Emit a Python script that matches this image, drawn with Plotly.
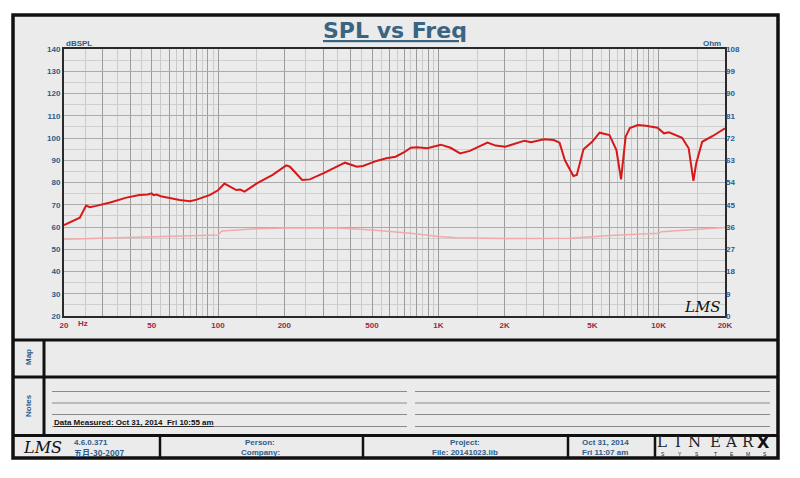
import plotly.graph_objects as go

W, H = 800, 478

# ---- data ----
spl_freq = [20, 23.6, 25.2, 26.2, 28, 32.4, 38.4, 44, 48, 50, 51, 52.6, 55, 60, 67, 74.6, 80, 92,
            100, 107, 113, 121, 126, 132, 150, 177, 204, 212, 241, 261, 300, 377, 427, 455, 524,
            581, 640, 700, 750, 800, 891, 1026, 1135, 1256, 1390, 1671, 1820, 2013, 2463, 2635,
            3017, 3340, 3550, 3630, 3750, 4100, 4250, 4560, 4990, 5395, 5980, 6430, 6750, 7080,
            7400, 8040, 8730, 9880, 10570, 11140, 12770, 13680, 14380, 14800, 15760, 17600, 20000]
spl_db = [60.8, 64.2, 69.6, 68.9, 69.5, 71.0, 73.2, 74.4, 74.6, 75.1, 74.3, 74.6, 73.8, 72.9, 72.1,
          71.6, 72.3, 74.4, 76.5, 79.5, 78.2, 76.6, 76.8, 75.9, 79.6, 83.4, 87.7, 87.1, 81.1, 81.4,
          84.1, 88.9, 87.1, 87.4, 89.7, 90.9, 91.6, 93.6, 95.6, 95.8, 95.4, 97.0, 95.6, 93.1, 94.2,
          97.9, 96.6, 96.1, 98.8, 98.1, 99.4, 99.1, 97.9, 94.6, 90.1, 82.9, 83.4, 94.9, 98.3,
          102.4, 101.3, 94.6, 81.4, 100.6, 104.5, 105.8, 105.5, 104.6, 102.1, 102.6, 100.1, 95.4,
          80.7, 88.6, 98.3, 100.9, 104.3]

imp_freq = [20, 100, 104, 150, 200, 350, 500, 750, 1000, 1200, 2000, 3000, 4000, 6000, 10000, 10300, 20000]
imp_ohm = [31.0, 32.8, 34.4, 35.3, 35.6, 35.6, 34.8, 33.5, 32.2, 31.7, 31.3, 31.3, 31.4, 32.6, 33.5, 34.1, 35.8]

left_ticks = [20, 30, 40, 50, 60, 70, 80, 90, 100, 110, 120, 130, 140]
right_ticks = [0, 9, 18, 27, 36, 45, 54, 63, 72, 81, 90, 99, 108]
x_label_vals = [20, 50, 100, 200, 500, 1000, 2000, 5000, 10000, 20000]
x_label_text = ["20", "50", "100", "200", "500", "1K", "2K", "5K", "10K", "20K"]

# grid positions
x_major = [m * d for d in (10, 100, 1000, 10000) for m in range(1, 10) if 20 <= m * d <= 20000]
x_minor = [m * d for d in (10, 100, 1000, 10000)
           for m in (1.5, 2.5, 3.5, 4.5, 5.5, 6.5, 7.5, 8.5, 9.5) if 20 <= m * d <= 20000]
x_text = [x_label_text[x_label_vals.index(v)] if v in x_label_vals else "" for v in x_major]

def px(x):
    return x / W

def py(y):
    return 1 - y / H

BLUE = "#2b5c8c"
CRIM = "#9e1f4d"
FONT = "Arial, Liberation Sans, sans-serif"

fig = go.Figure()
fig.add_trace(go.Scatter(x=imp_freq, y=imp_ohm, yaxis="y2", mode="lines",
                         line=dict(color="#f3a9a9", width=1.5), hoverinfo="skip", showlegend=False))
fig.add_trace(go.Scatter(x=spl_freq, y=spl_db, mode="lines",
                         line=dict(color="#d81818", width=2), showlegend=False))

fig.update_layout(
    width=W, height=H, autosize=False,
    margin=dict(l=0, r=0, t=0, b=0, pad=0),
    paper_bgcolor="white", plot_bgcolor="white",
    showlegend=False,
    xaxis=dict(type="log", range=[1.30103, 4.30103], domain=[px(64), px(725)], anchor="y",
               automargin=False,
               tickmode="array", tickvals=x_major, ticktext=x_text, ticks="",
               tickfont=dict(family=FONT, size=8, color=CRIM, weight="bold"),
               showgrid=True, gridcolor="#9c9c9c", gridwidth=1,
               minor=dict(tickvals=x_minor, showgrid=True, gridcolor="#cacaca", gridwidth=1, ticks=""),
               showline=True, linecolor="#2a2a2a", linewidth=2, mirror=True, zeroline=False,
               fixedrange=True),
    yaxis=dict(range=[20, 140], domain=[py(316), py(49)], anchor="x",
               automargin=False,
               tickmode="array", tickvals=left_ticks, ticks="",
               tickfont=dict(family=FONT, size=8, color=BLUE, weight="bold"),
               showgrid=True, gridcolor="#ababab", gridwidth=1,
               minor=dict(tickvals=[v + 5 for v in left_ticks[:-1]], showgrid=True,
                          gridcolor="#cfcfcf", gridwidth=1, ticks=""),
               showline=True, linecolor="#2a2a2a", linewidth=2, mirror=True, zeroline=False,
               fixedrange=True),
    yaxis2=dict(range=[0, 108], overlaying="y", side="right", anchor="x",
                automargin=False,
                tickmode="array", tickvals=right_ticks, ticks="",
                tickfont=dict(family=FONT, size=8, color=BLUE, weight="bold"),
                showgrid=False, zeroline=False, showline=False, fixedrange=True),
)

shapes = []
# panel background + outer frame
shapes.append(dict(type="rect", xref="paper", yref="paper", x0=px(13), x1=px(778), y0=py(458), y1=py(15),
                   fillcolor="#ebebeb", line=dict(width=0), layer="below"))
def hline(x0, x1, y, w=3, c="#111"):
    shapes.append(dict(type="line", xref="paper", yref="paper", x0=px(x0), x1=px(x1), y0=py(y), y1=py(y),
                       line=dict(color=c, width=w), layer="above"))
def vline(x, y0, y1, w=3, c="#111"):
    shapes.append(dict(type="line", xref="paper", yref="paper", x0=px(x), x1=px(x), y0=py(y0), y1=py(y1),
                       line=dict(color=c, width=w), layer="above"))
shapes.append(dict(type="rect", xref="paper", yref="paper", x0=px(13), x1=px(778), y0=py(458), y1=py(15),
                   fillcolor="rgba(0,0,0,0)", line=dict(color="#111", width=3.5), layer="above"))
hline(13, 778, 340)
hline(13, 778, 377)
hline(13, 778, 435.5)
vline(44, 340, 435.5)
for xv in (160, 363, 568, 655):
    vline(xv, 435.5, 458, w=2.5)
# note lines
for yv in (391.5, 403, 414.5, 426.5):
    hline(52, 407, yv, w=1, c="#8a8a8a")
    hline(415, 770, yv, w=1, c="#8a8a8a")
fig.update_layout(shapes=shapes)

ann = []
def text(x, y, s, size=8, color=BLUE, xanchor="center", bold=True, family=FONT, angle=0):
    ann.append(dict(xref="paper", yref="paper", x=px(x), y=py(y), text=s, showarrow=False,
                    xanchor=xanchor, yanchor="middle", textangle=angle,
                    font=dict(family=family, size=size, color=color, weight="bold" if bold else "normal")))

text(394.5, 31, "<u>SPL vs Freq</u>", size=22, color="#3a6581", family="DejaVu Sans, sans-serif")
text(64, 43.5, "dBSPL", xanchor="left")
text(723, 43, "Ohm", xanchor="right")
text(76, 323, "Hz", color=CRIM, xanchor="left")
text(702, 307, "<i>LMS</i>", size=15, color="#111", bold=False, family="DejaVu Serif, serif")
text(28, 357, "Map", angle=-90)
text(28, 406, "Notes", angle=-90)
text(52, 422, "<u>Data Measured: Oct 31, 2014  Fri 10:55 am</u>", color="#111", xanchor="left")
text(42, 447, "<i>LMS</i>", size=16, color="#111", bold=False, family="DejaVu Serif, serif")
text(72, 442, "4.6.0.371", xanchor="left")
text(72, 452, "五月-30-2007", xanchor="left", family="Noto Sans CJK SC, " + FONT)
text(260, 442, "Person:")
text(260, 452, "Company:")
text(465, 442, "Project:")
text(465, 452, "File: 20141023.lib")
text(605, 442, "Oct 31, 2014")
text(605, 452, "Fri 11:07 am")
for xv, ch in zip((662, 678, 694, 715, 731, 748), "LINEAR"):
    text(xv, 442, ch, size=15, color="#222", bold=False, family="DejaVu Serif, serif")
text(763, 442, "X", size=16, color="#111", bold=True, family="DejaVu Sans, sans-serif")
for xv, ch in zip((663, 680, 697, 715, 732, 748, 765), "SYSTEMS"):
    text(xv, 453.5, ch, size=5, color="#222", bold=False)
fig.update_layout(annotations=ann)

fig.write_html("out.html", config={"displayModeBar": False},
               post_script="document.body.style.margin='0';")
